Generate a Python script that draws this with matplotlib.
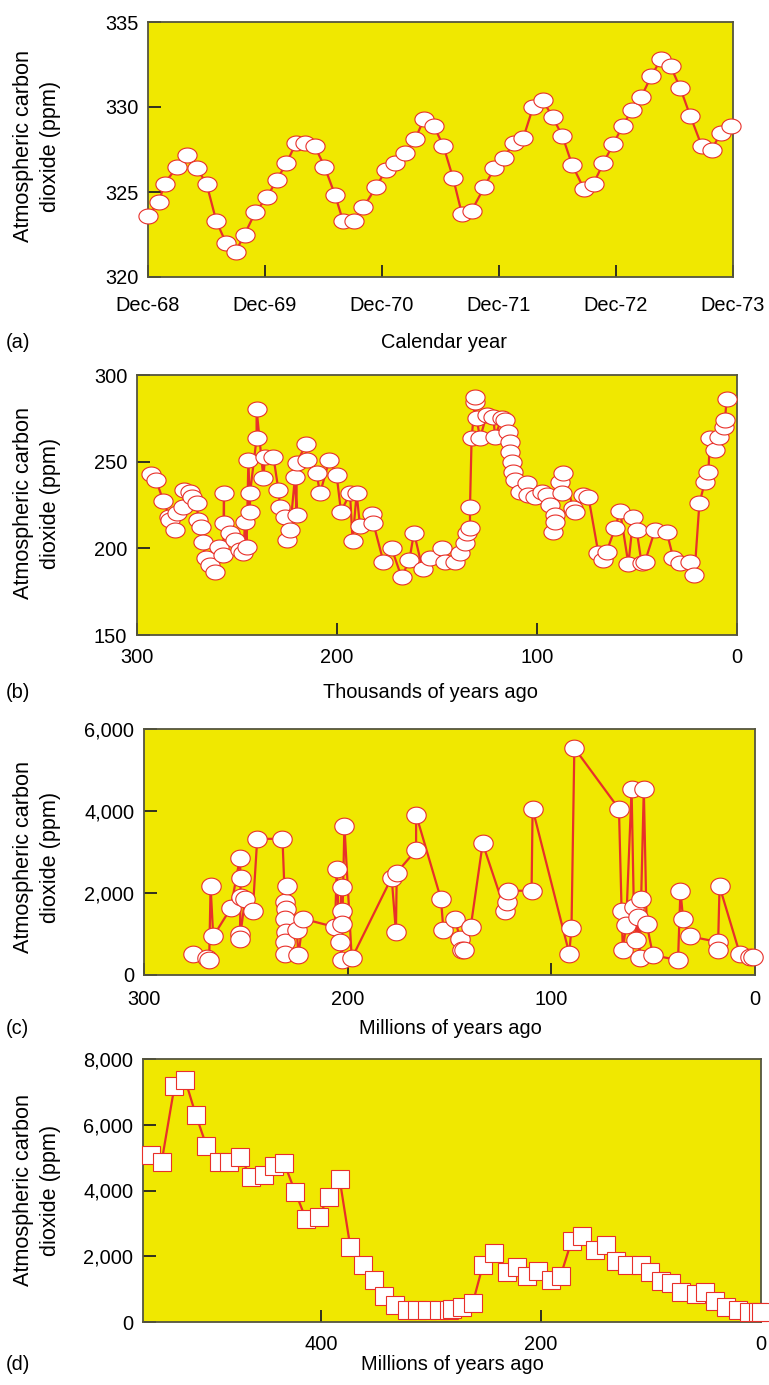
import numpy as np
import matplotlib
matplotlib.use('Agg')
import matplotlib.pyplot as plt
from matplotlib.path import Path
from matplotlib.ticker import FuncFormatter

plt.rcParams['font.family'] = ['Liberation Sans', 'DejaVu Sans']

# (a) Mauna Loa monthly record, months after Dec-68
ml_month = [0.0, 1.1, 1.7, 3.0, 4.0, 5.0, 6.0, 7.0, 8.0, 9.0, 9.9, 11.0, 12.2, 13.2, 14.2,
            15.2, 16.1, 17.1, 18.1, 19.2, 20.0, 21.1, 22.1, 23.4, 24.4, 25.3, 26.4, 27.4,
            28.3, 29.3, 30.3, 31.3, 32.2, 33.2, 34.5, 35.5, 36.5, 37.5, 38.5, 39.5, 40.5,
            41.5, 42.5, 43.5, 44.7, 45.7, 46.7, 47.7, 48.7, 49.6, 50.6, 51.6, 52.6, 53.6,
            54.6, 55.6, 56.8, 57.8, 58.8, 59.8]
ml_co2 = [323.6, 324.4, 325.5, 326.5, 327.2, 326.4, 325.5, 323.3, 322.0, 321.5, 322.5,
          323.8, 324.7, 325.7, 326.7, 327.9, 327.9, 327.7, 326.5, 324.8, 323.3, 323.3,
          324.1, 325.3, 326.3, 326.7, 327.3, 328.1, 329.3, 328.9, 327.7, 325.8, 323.7,
          323.9, 325.3, 326.4, 327.0, 327.9, 328.2, 330.0, 330.4, 329.4, 328.3, 326.6,
          325.2, 325.5, 326.7, 327.8, 328.9, 329.8, 330.6, 331.8, 332.8, 332.4, 331.1,
          329.5, 327.7, 327.5, 328.5, 328.9]
ml_ticks = ['Dec-68', 'Dec-69', 'Dec-70', 'Dec-71', 'Dec-72', 'Dec-73']

# (b) ice core, thousands of years ago
ice_age = [293.2, 290.5, 286.8, 283.8, 283.5, 281.0, 280.2, 276.8, 276.5, 273.5, 272.7,
           270.2, 269.3, 268.2, 267.2, 265.5, 263.5, 261.0, 258.8, 256.8, 256.5, 256.5,
           253.5, 251.0, 248.5, 246.8, 246.0, 245.2, 244.3, 243.5, 243.5, 240.2, 240.2,
           236.8, 236.0, 231.8, 229.3, 228.5, 226.0, 225.2, 223.5, 221.0, 220.2, 220.2,
           215.5, 215.2, 210.2, 208.5, 203.8, 200.2, 198.0, 193.5, 192.2, 190.2, 188.5,
           182.7, 181.8, 176.8, 172.7, 167.7, 163.8, 161.5, 157.2, 153.5, 147.7, 146.0,
           141.0, 138.5, 136.0, 135.2, 133.5, 133.5, 132.7, 131.0, 131.0, 130.2, 128.5,
           125.2, 121.8, 121.0, 117.7, 116.0, 114.3, 113.5, 113.5, 112.7, 111.8, 111.0,
           108.5, 105.2, 104.3, 101.0, 97.7, 95.2, 93.5, 91.8, 91.0, 91.0, 88.5, 87.7,
           86.8, 81.8, 81.0, 77.2, 74.3, 69.3, 66.8, 65.2, 61.0, 58.5, 54.3, 51.8, 50.2,
           47.7, 46.0, 41.0, 35.2, 31.8, 28.5, 23.5, 21.3, 18.8, 16.0, 14.3, 13.5, 11.0,
           9.2, 6.7, 6.0, 5.2]
ice_co2 = [242.9, 239.4, 227.3, 218.3, 216.3, 210.6, 220.2, 224.0, 233.7, 232.7, 229.8,
           226.0, 216.3, 212.5, 203.8, 194.2, 190.4, 186.5, 201.0, 196.2, 231.7, 214.4,
           208.7, 204.8, 199.0, 197.1, 215.4, 201.0, 251.0, 221.2, 231.7, 263.5, 280.2,
           240.4, 252.9, 252.9, 233.7, 224.0, 218.3, 204.8, 210.6, 241.3, 219.2, 249.0,
           260.2, 251.0, 243.3, 231.7, 251.0, 242.3, 221.2, 231.7, 204.4, 231.7, 213.0,
           219.8, 214.4, 192.3, 200.0, 183.3, 193.3, 209.0, 187.9, 194.2, 200.0, 192.3,
           192.3, 197.1, 202.9, 208.7, 211.5, 224.0, 263.5, 284.6, 287.5, 275.0, 263.5,
           276.9, 276.0, 264.4, 275.0, 274.0, 267.3, 261.5, 255.8, 250.0, 244.2, 239.4,
           232.7, 237.5, 230.8, 229.8, 232.7, 230.8, 225.0, 209.6, 219.2, 215.4, 238.5,
           231.7, 243.3, 223.0, 221.2, 230.8, 229.8, 197.1, 193.3, 198.1, 211.5, 221.7,
           191.0, 218.3, 210.6, 191.3, 192.3, 210.6, 209.6, 194.2, 191.3, 192.3, 184.6,
           226.0, 238.5, 244.2, 263.5, 256.7, 264.4, 270.2, 274.0, 286.0]

# (c) proxy estimates, millions of years ago
proxy_age = [275.8, 269.2, 268.0, 267.3, 266.0, 257.4, 252.9, 252.6, 252.6, 252.9, 252.9,
             250.4, 246.6, 244.4, 232.0, 230.8, 229.7, 230.4, 230.8, 230.4, 230.8, 230.8,
             225.0, 224.2, 221.8, 206.2, 205.4, 203.8, 203.0, 203.0, 203.0, 203.0, 201.6,
             198.0, 178.4, 176.3, 175.9, 166.4, 166.4, 154.2, 153.0, 147.3, 144.8, 144.0,
             143.1, 139.6, 133.7, 122.7, 122.0, 121.1, 109.7, 109.2, 91.2, 90.1, 88.7,
             66.8, 65.5, 64.9, 63.3, 60.6, 59.5, 58.3, 57.5, 56.6, 55.9, 54.6, 53.2, 50.1,
             37.8, 36.6, 35.3, 32.1, 18.2, 18.2, 17.4, 7.5, 2.6, 1.0]
proxy_co2 = [524, 403, 363, 2160, 942, 1628, 2861, 2378, 1894, 1008, 887,
             1854, 1572, 3321, 3321, 1773, 2160, 1612, 1370, 1048, 806, 524,
             1088, 484, 1370, 1169, 2579, 806, 2136, 1572, 1249, 363, 3643,
             403, 2378, 1048, 2499, 3047, 3909, 1854, 1104, 1354, 887, 605,
             621, 1169, 3208, 1572, 1773, 2055, 2055, 4054, 524, 1153, 5537,
             4054, 1572, 605, 1209, 4530, 1652, 846, 1410, 403, 1854, 4530, 1249, 484,
             363, 2055, 1370, 943, 806, 605, 2160, 524, 443, 443]

# (d) model estimates, millions of years ago
model_age = [554.6, 545.0, 533.4, 523.7, 514.0, 504.3, 492.7, 483.6, 473.6, 463.9, 452.4,
             442.7, 433.6, 423.5, 413.8, 402.3, 393.2, 383.2, 373.4, 362.2, 352.2, 343.1,
             333.1, 321.9, 312.8, 303.7, 293.1, 284.0, 280.9, 271.8, 262.1, 252.9, 243.0,
             231.4, 222.3, 212.6, 202.9, 191.4, 182.3, 172.3, 162.5, 151.0, 141.3, 132.2,
             122.1, 109.4, 100.9, 91.2, 82.1, 73.0, 59.3, 50.8, 41.7, 32.0, 20.5, 10.8,
             2.3, 0.0]
model_co2 = [5084, 4880, 7168, 7372, 6304, 5359, 4880, 4880, 5014, 4404, 4475,
             4750, 4831, 3947, 3132, 3203, 3813, 4352, 2269, 1729, 1272, 784,
             509, 378, 378, 378, 378, 378, 409, 460, 580, 1729, 2086,
             1525, 1678, 1394, 1546, 1272, 1403, 2461, 2614, 2187, 2340, 1861,
             1729, 1729, 1525, 1251, 1190, 916, 865, 916, 641, 458, 378, 307,
             307, 307]

YELLOW = '#f0e800'
RED = '#e8302a'
SPINE = '#55553f'
FS = 14.4

t = np.linspace(0, 2 * np.pi, 60)


def ellipse(ratio):
    return Path(np.column_stack([np.cos(t), ratio * np.sin(t)]), closed=True)


def style_axes(ax, xpad):
    ax.set_facecolor(YELLOW)
    for s in ax.spines.values():
        s.set_color(SPINE)
        s.set_linewidth(1.3)
    ax.tick_params(direction='in', length=9, width=1.3, color='#222222',
                   labelsize=FS, top=False, right=False)
    ax.tick_params(axis='y', pad=7)
    ax.tick_params(axis='x', pad=xpad)


def draw(ax, x, y, marker, ms):
    ax.plot(x, y, color=RED, lw=1.6, zorder=2, clip_on=False)
    ax.plot(x, y, ls='none', marker=marker, ms=ms, mfc='white', mec=RED,
            mew=0.8, zorder=3, clip_on=False)


fig = plt.figure(figsize=(7.69, 13.85), dpi=100)
W, H = 769, 1385


def axes_px(l, t_, r, b):
    return fig.add_axes([l / W, 1 - b / H, (r - l) / W, (b - t_) / H])


comma = FuncFormatter(lambda v, p: f'{int(v):,}')

# (a)
ax = axes_px(148, 22, 733, 277)
style_axes(ax, 14)
draw(ax, ml_month, ml_co2, ellipse(0.78), 13.8)
ax.set_xlim(0, 60)
ax.set_ylim(320, 335)
ax.set_xticks(range(0, 61, 12))
ax.set_xticklabels(ml_ticks)
ax.set_yticks([320, 325, 330, 335])

# (b)
ax = axes_px(137, 375, 737, 635)
style_axes(ax, 9)
draw(ax, ice_age, ice_co2, ellipse(0.78), 13.8)
ax.set_xlim(300, 0)
ax.set_ylim(150, 300)
ax.set_xticks([300, 200, 100, 0])
ax.set_yticks([150, 200, 250, 300])

# (c)
ax = axes_px(144, 729, 755, 975)
style_axes(ax, 10.5)
draw(ax, proxy_age, proxy_co2, ellipse(0.86), 14)
ax.set_xlim(300, 0)
ax.set_ylim(0, 6000)
ax.set_xticks([300, 200, 100, 0])
ax.set_yticks([0, 2000, 4000, 6000])
ax.yaxis.set_major_formatter(comma)

# (d)
ax = axes_px(143, 1059, 761, 1322)
style_axes(ax, 9.5)
draw(ax, model_age, model_co2, 's', 13.5)
ax.set_xlim(562, 0)
ax.set_ylim(0, 8000)
ax.set_xticks([400, 200, 0])
ax.set_yticks([0, 2000, 4000, 6000, 8000])
ax.yaxis.set_major_formatter(comma)

ylab = 'Atmospheric carbon\ndioxide (ppm)'
for yc in [146, 503, 857, 1190]:
    fig.text(37 / W, 1 - yc / H, ylab, rotation=90, ha='center', va='center',
             fontsize=15.6, linespacing=1.35)

for letter, xlab, xc, yc in [('(a)', 'Calendar year', 444, 343),
                             ('(b)', 'Thousands of years ago', 430, 692),
                             ('(c)', 'Millions of years ago', 450, 1029),
                             ('(d)', 'Millions of years ago', 452, 1365)]:
    fig.text(6 / W, 1 - yc / H, letter, ha='left', va='center', fontsize=FS)
    fig.text(xc / W, 1 - yc / H, xlab, ha='center', va='center', fontsize=FS)

fig.savefig('out.png', dpi=100, facecolor='white')
